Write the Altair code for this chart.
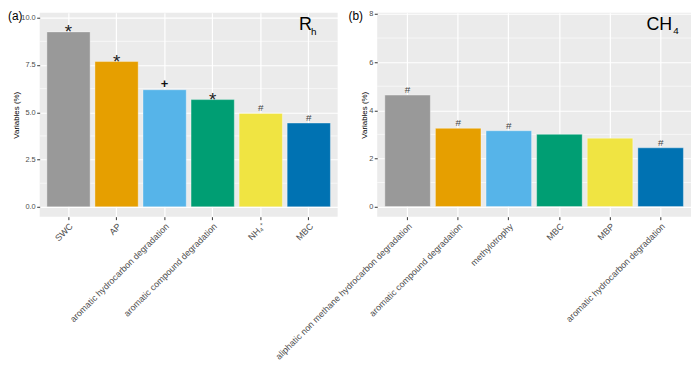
import altair as alt
import pandas as pd

# ---- data ----
cats_a = ["SWC", "AP", "aromatic hydrocarbon degradation", "aromatic compound degradation", "NH₄⁺", "MBC"]
vals_a = [9.25, 7.68, 6.19, 5.67, 4.94, 4.43]
marks_a = ["*", "*", "+", "*", "#", "#"]

cats_b = ["aliphatic non methane hydrocarbon degradation", "aromatic compound degradation",
          "methylotrophy", "MBC", "MBP", "aromatic hydrocarbon degradation"]
vals_b = [4.63, 3.25, 3.15, 3.00, 2.84, 2.44]
marks_b = ["#", "#", "#", "", "", "#"]

colors = ["#999999", "#E69F00", "#56B4E9", "#009E73", "#F0E442", "#0072B2"]

ticks_a = [0, 2.5, 5, 7.5, 10]
minor_a = [1.25, 3.75, 6.25, 8.75]
ticks_b = [0, 2, 4, 6, 8]
minor_b = [1, 3, 5, 7]

FONT = "Liberation Sans"


def panel(cats, vals, marks, ticks, minor, domain, fmt, width, tag, main, sub,
          main_x, sub_x, sub_y):
    df = pd.DataFrame({"cat": cats, "val": vals, "mark": marks})
    yscale = alt.Scale(domain=domain, nice=False, zero=False)
    yaxis = alt.Axis(values=ticks, format=fmt, grid=True, gridColor="white", gridWidth=1.2,
                     domain=False, tickColor="#333333", tickSize=3, labelColor="#4D4D4D",
                     labelFontSize=7.5, labelPadding=1.5, titleFontSize=8,
                     titleFontWeight="normal", titleColor="black", titlePadding=0.5)
    xscale = alt.Scale(paddingInner=0.1, paddingOuter=0.15)
    xaxis = alt.Axis(labelAngle=-45, labelAlign="right", labelBaseline="top", grid=True,
                     gridColor="white", gridWidth=1.2, bandPosition=0.5, domain=False,
                     tickColor="#333333", tickSize=3, labelColor="#4D4D4D", labelFontSize=9,
                     labelPadding=2, labelLimit=400)
    x = alt.X("cat:N", sort=cats, title=None, scale=xscale, axis=xaxis)

    minor_rules = alt.Chart(pd.DataFrame({"val": minor})).mark_rule(
        color="white", strokeWidth=0.6
    ).encode(y=alt.Y("val:Q", title="Variables (%)", scale=yscale, axis=yaxis))

    bars = alt.Chart(df).mark_bar(stroke="white", strokeWidth=0.6, strokeOpacity=0.6).encode(
        x=x,
        y=alt.Y("val:Q", title="Variables (%)", scale=yscale, axis=yaxis),
        color=alt.Color("cat:N", scale=alt.Scale(domain=cats, range=colors), legend=None),
    )

    base_txt = alt.Chart(df).encode(x=x, y=alt.Y("val:Q", scale=yscale), text="mark:N")
    star = base_txt.transform_filter(alt.datum.mark == "*").mark_text(
        font=FONT, fontSize=19, baseline="alphabetic", dy=6, color="#222222")
    plus = base_txt.transform_filter(alt.datum.mark == "+").mark_text(
        font=FONT, fontSize=13, fontWeight="bold", baseline="alphabetic", dy=-2, color="#111111")
    hsh = base_txt.transform_filter(alt.datum.mark == "#").mark_text(
        font=FONT, fontSize=10, baseline="alphabetic", dy=-2, color="#444444")

    lab = pd.DataFrame({"t": [0]})
    tag_t = alt.Chart(lab).mark_text(font=FONT, fontSize=12, align="left", baseline="top",
                                     color="black").encode(
        x=alt.value(tag[1]), y=alt.value(-2), text=alt.value(tag[0]))
    main_t = alt.Chart(lab).mark_text(font=FONT, fontSize=18, align="left",
                                      baseline="alphabetic", color="black").encode(
        x=alt.value(main_x), y=alt.value(17), text=alt.value(main))
    sub_t = alt.Chart(lab).mark_text(font=FONT, fontSize=10, align="left",
                                     baseline="alphabetic", color="black").encode(
        x=alt.value(sub_x), y=alt.value(sub_y), text=alt.value(sub))

    return alt.layer(minor_rules, bars, star, plus, hsh, tag_t, main_t, sub_t).properties(
        width=width, height=206)


pa = panel(cats_a, vals_a, marks_a, ticks_a, minor_a, [-0.52, 10.26], ".1f", 301,
           ("(a)", -32), "R", "h", 262, 274, 22)
pb = panel(cats_b, vals_b, marks_b, ticks_b, minor_b, [-0.42, 8.05], "d", 317,
           ("(b)", -29), "CH", "4", 272, 299, 21)

chart = alt.hconcat(pa, pb, spacing=40).resolve_scale(color="independent").properties(
    padding=0, bounds="flush"
).configure(font=FONT).configure_view(fill="#EBEBEB", strokeWidth=0)

chart.save("out.html", embed_options={"renderer": "svg", "actions": False})
